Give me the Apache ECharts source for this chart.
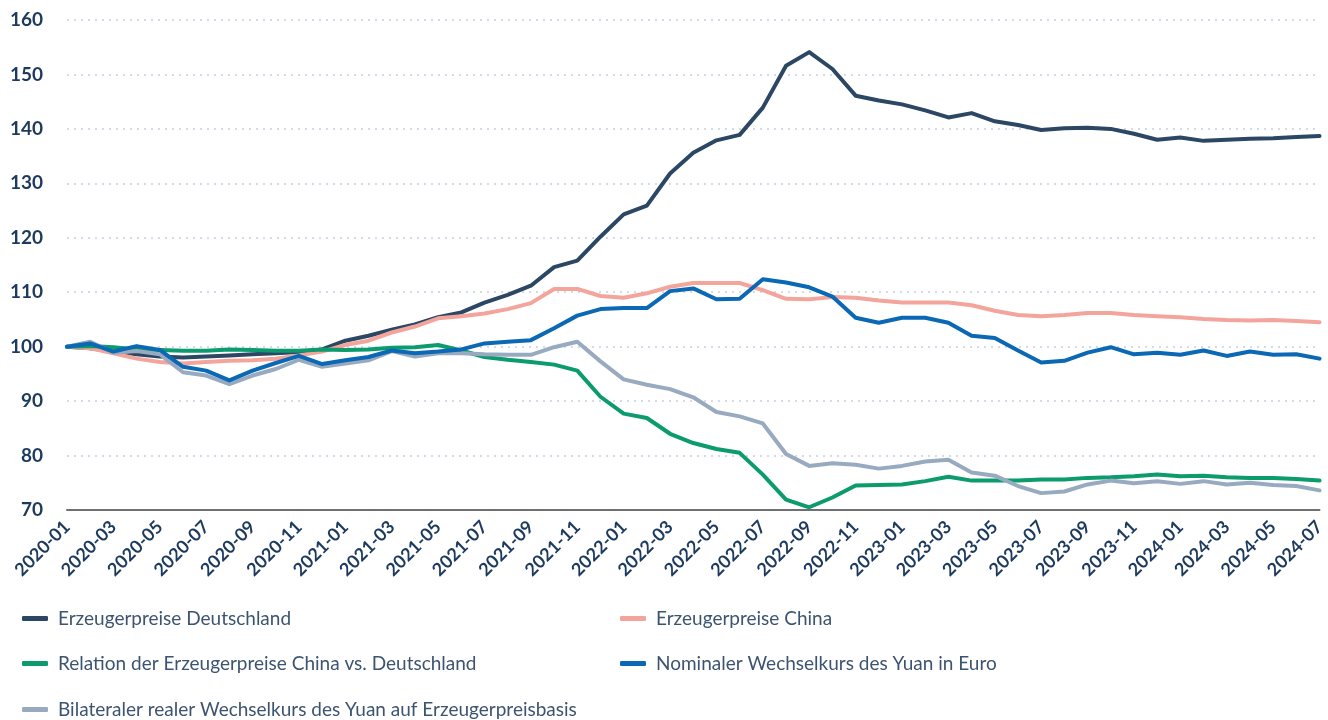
<!DOCTYPE html>
<html>
<head>
<meta charset="utf-8">
<title>Erzeugerpreise und Wechselkurs</title>
<script src="https://cdn.jsdelivr.net/npm/echarts@6/dist/echarts.min.js"></script>
<style>
  html, body { margin: 0; padding: 0; background: #fff; }
  #chart { width: 1328px; height: 720px; }
</style>
</head>
<body>
<div id="chart"></div>
<script>
// Monate 2020-01 .. 2024-07
var months = []
for (var y = 2020; y <= 2024; y++) {
  for (var m = 1; m <= 12; m++) {
    if (y === 2024 && m > 7) break
    months.push(y + '-' + (m < 10 ? '0' + m : m))
  }
}

var yTicks = [70, 80, 90, 100, 110, 120, 130, 140, 150, 160]

// Werte (Index 2020-01 = 100)
var erzeugerDE = [
  100, 99.7, 99.1, 98.6, 98.2, 98.0, 98.2, 98.4, 98.6, 98.8, 99.0, 99.5,
  101.1, 102.0, 103.1, 104.1, 105.4, 106.3, 108.1, 109.5, 111.2, 114.6, 115.8, 120.2,
  124.3, 125.9, 131.8, 135.6, 137.9, 138.9, 143.9, 151.6, 154.1, 151.0, 146.1, 145.2,
  144.5, 143.4, 142.1, 142.9, 141.4, 140.7, 139.8, 140.1, 140.2, 140.0, 139.1, 138.0,
  138.4, 137.8, 138.0, 138.2, 138.3, 138.5, 138.7
]
var erzeugerCN = [
  100, 99.7, 98.8, 97.8, 97.2, 96.9, 97.2, 97.4, 97.5, 97.8, 98.4, 99.1,
  100.3, 101.1, 102.6, 103.7, 105.2, 105.6, 106.1, 106.9, 108.0, 110.6, 110.6, 109.3,
  109.0, 109.8, 111.0, 111.7, 111.7, 111.7, 110.4, 108.8, 108.7, 109.1, 109.0, 108.5,
  108.1, 108.1, 108.1, 107.6, 106.6, 105.8, 105.6, 105.8, 106.2, 106.2, 105.8, 105.6,
  105.4, 105.1, 104.9, 104.8, 104.9, 104.7, 104.5
]
var relation = [
  100, 100.1, 99.9, 99.5, 99.4, 99.25, 99.25, 99.5, 99.4, 99.25, 99.25, 99.5,
  99.4, 99.5, 99.8, 99.9, 100.3, 99.3, 98.1, 97.6, 97.2, 96.7, 95.6, 90.8,
  87.7, 86.9, 84.0, 82.3, 81.2, 80.5, 76.5, 71.9, 70.5, 72.3, 74.5, 74.6,
  74.7, 75.3, 76.1, 75.4, 75.4, 75.4, 75.6, 75.6, 75.9, 76.0, 76.2, 76.5,
  76.2, 76.3, 76.0, 75.9, 75.9, 75.7, 75.4
]
var nominal = [
  100, 100.6, 99.1, 100.1, 99.4, 96.3, 95.6, 93.8, 95.6, 97.0, 98.3, 96.8,
  97.5, 98.1, 99.3, 98.8, 99.1, 99.5, 100.6, 100.9, 101.2, 103.4, 105.7, 106.9,
  107.1, 107.1, 110.2, 110.7, 108.7, 108.8, 112.4, 111.8, 110.9, 109.2, 105.3, 104.4,
  105.3, 105.3, 104.4, 102.0, 101.6, 99.3, 97.1, 97.4, 98.9, 99.9, 98.6, 98.9,
  98.5, 99.3, 98.3, 99.1, 98.5, 98.6, 97.8
]
var real = [
  100, 100.9, 98.9, 99.2, 98.6, 95.3, 94.7, 93.1, 94.7, 95.9, 97.6, 96.3,
  96.9, 97.5, 99.2, 98.2, 98.8, 98.8, 98.6, 98.5, 98.5, 99.9, 100.9, 97.3,
  94.0, 93.0, 92.2, 90.7, 88.0, 87.2, 85.9, 80.3, 78.1, 78.6, 78.3, 77.6,
  78.1, 78.9, 79.25, 76.9, 76.3, 74.4, 73.1, 73.4, 74.7, 75.4, 74.9, 75.3,
  74.8, 75.3, 74.7, 75.0, 74.6, 74.4, 73.6
]

var seriesNames = [
  'Erzeugerpreise Deutschland',
  'Erzeugerpreise China',
  'Relation der Erzeugerpreise China vs. Deutschland',
  'Nominaler Wechselkurs des Yuan in Euro',
  'Bilateraler realer Wechselkurs des Yuan auf Erzeugerpreisbasis'
]
var seriesData = [erzeugerDE, erzeugerCN, relation, nominal, real]
var colors = ['#2c4764', '#f4a59b', '#0b9b6c', '#0a68b4', '#98aac0']

var labelColor = '#1c3a5e'
var font = 'Lato, "Noto Sans", sans-serif'

// Legende: zwei Spalten, drei Zeilen
var legendPos = [[22, 609], [620, 609], [22, 654], [620, 654], [22, 700]]
var legends = seriesNames.map(function (name, i) {
  return {
    data: [name],
    left: legendPos[i][0],
    top: legendPos[i][1],
    padding: 0,
    icon: 'roundRect',
    itemWidth: 26,
    itemHeight: 5,
    selectedMode: false,
    textStyle: { color: '#3d5470', fontSize: 19, fontFamily: font, padding: [0, 0, 0, 5] }
  }
})

var chart = echarts.init(document.getElementById('chart'), null, { renderer: 'canvas' })

chart.setOption({
  animation: false,
  color: colors,
  legend: legends,
  grid: { left: 67, right: 3, top: 20, bottom: 210, containLabel: false },
  xAxis: {
    type: 'category',
    data: months,
    boundaryGap: false,
    axisLine: { lineStyle: { color: '#707070', width: 2 } },
    axisTick: { show: false },
    axisLabel: {
      interval: 1,
      rotate: 45,
      margin: 14,
      color: labelColor,
      fontSize: 18,
      fontWeight: 'bold',
      fontFamily: font
    },
    splitLine: { show: false }
  },
  yAxis: {
    type: 'value',
    min: yTicks[0],
    max: yTicks[yTicks.length - 1],
    interval: 10,
    axisLine: { show: false },
    axisTick: { show: false },
    axisLabel: {
      margin: 24,
      color: labelColor,
      fontSize: 19,
      fontWeight: 'bold',
      fontFamily: font
    },
    splitLine: { lineStyle: { color: '#c3d0e0', width: 1.5, type: [2, 5] } }
  },
  series: seriesNames.map(function (name, i) {
    return {
      name: name,
      type: 'line',
      data: seriesData[i],
      symbol: 'none',
      lineStyle: { width: 4, color: colors[i], join: 'round', cap: 'round' },
      itemStyle: { color: colors[i] },
      z: i === 3 ? 4 : 2
    }
  })
})
</script>
</body>
</html>
